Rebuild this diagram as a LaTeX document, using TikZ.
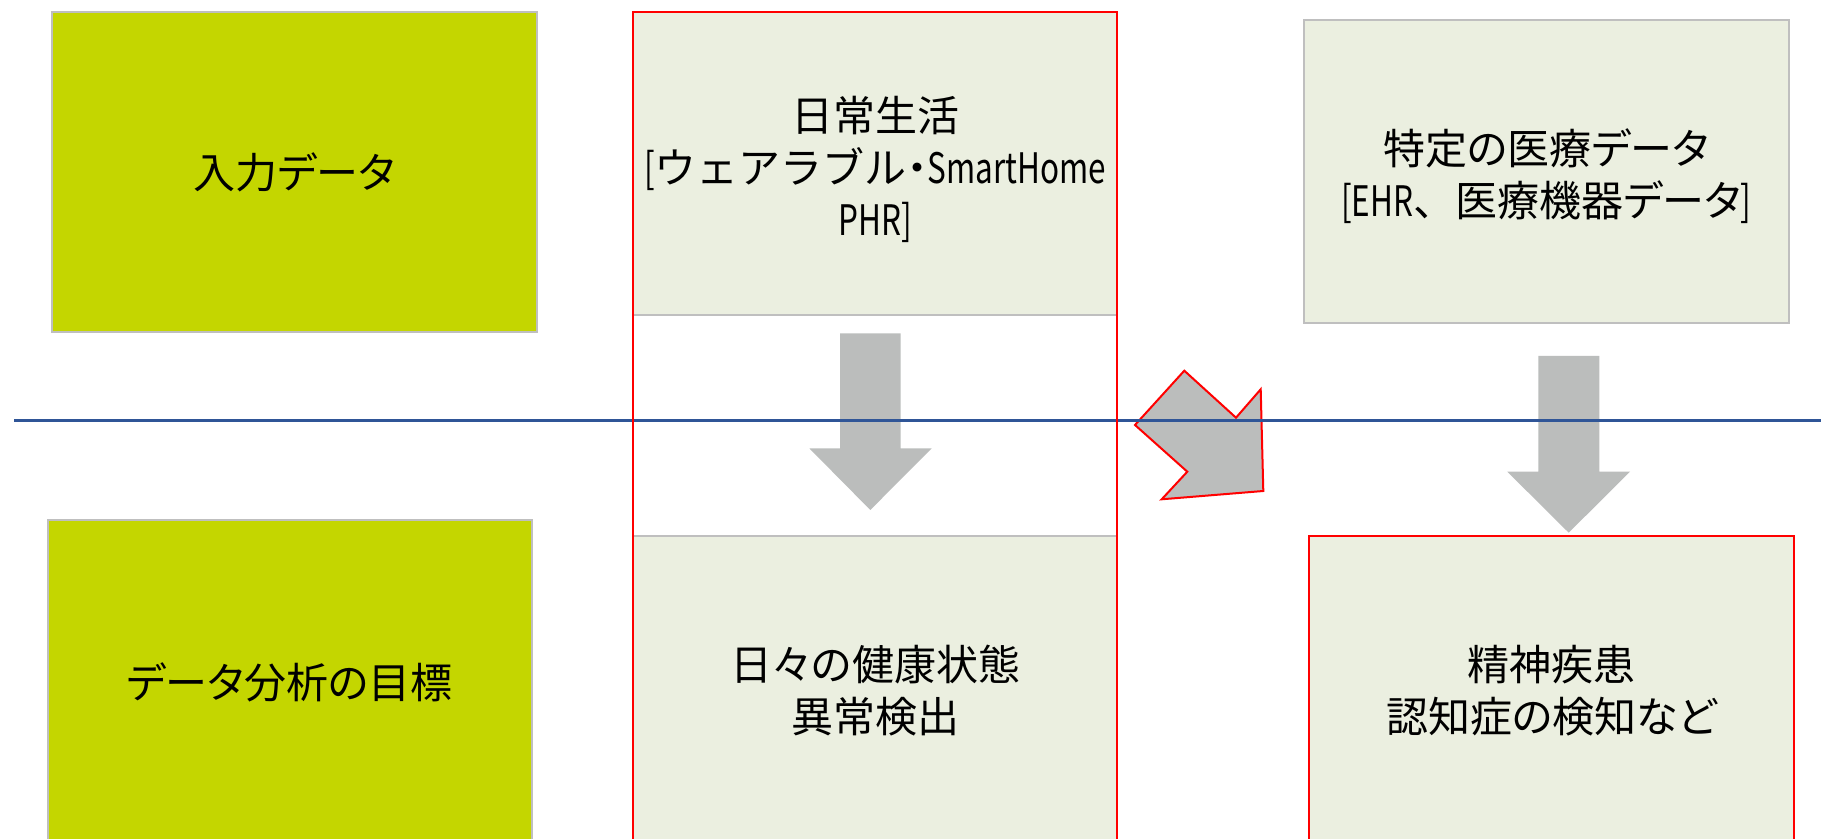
\documentclass[tikz,border=0pt]{standalone}
\usepackage{fontspec}
\newfontfamily\jp{Noto Sans CJK JP}[RawFeature=+palt]
\newfontfamily\jpf{Noto Sans CJK JP}
\newfontfamily\lat{Noto Sans CJK JP}[FakeStretch=0.75]
\definecolor{cgreen}{HTML}{C4D600}
\definecolor{clight}{HTML}{EBEFE0}
\definecolor{cgray}{HTML}{BFBFBF}
\definecolor{cred}{HTML}{FF0000}
\definecolor{carrow}{HTML}{BBBDBC}
\definecolor{cblue}{HTML}{2F5597}
\tikzset{
  box/.style={rectangle, inner sep=0pt, align=center, line width=1pt,
    font=\jp\fontsize{21}{26}\selectfont},
  greenbox/.style={box, fill=cgreen, draw=cgray},
  lightbox/.style={box, fill=clight, draw=cgray},
  redbox/.style={box, fill=clight, draw=cred},
  txt/.style={align=center, inner sep=0pt, font=\jp\fontsize{21}{26}\selectfont},
  blockarrow/.style={fill=carrow, draw=none},
  bentarrow/.style={fill=carrow, draw=cred, line width=1pt, line join=miter},
  divider/.style={draw=cblue, line width=1.1pt},
  frame/.style={draw=cred, line width=1pt}
}
\begin{document}
\begin{tikzpicture}[x=0.5pt,y=-0.5pt]
\clip (0,0) rectangle (1821,839);
\fill[white] (0,0) rectangle (1821,839);
% left labels
\node[greenbox, minimum width=242.1pt, minimum height=160.3pt] (in) at (294.4,171.9) {入力データ};
\node[greenbox, minimum width=242.15pt, minimum height=162.35pt] (goal) at (289.75,682.65) {データ分析の目標};
% middle column
\node[lightbox, minimum width=242.1pt, minimum height=151.55pt] (daily) at (875.1,163.15) {};
\node[txt, yshift=-3pt] (dailyt) at (daily.center)
  {日常生活\\{\lat[}{\jpf ウェアラブル}・{\lat SmartHome}\\{\lat PHR]}};
\node[lightbox, minimum width=242.1pt, minimum height=154.25pt] (health) at (875.1,690.75)
  {日々の健康状態\\異常検出};
% right column
\node[lightbox, minimum width=242.15pt, minimum height=151.6pt] (med) at (1546.35,171.3) {};
\node[txt, yshift=-2.5pt] (medt) at (med.center)
  {特定の医療データ\\{\lat[EHR}{\jpf 、}医療機器データ{\lat]}};
\node[redbox, minimum width=242.75pt, minimum height=154.25pt] (mental) at (1551.55,690.75)
  {精神疾患\\認知症の検知など};
% straight block arrows
\fill[blockarrow] (840,333.3) -- (900.7,333.3) -- (900.7,448.3) -- (931.7,448.3)
  -- (870.3,510) -- (809.3,448.3) -- (840,448.3) -- cycle;
\fill[blockarrow] (1538.3,356) -- (1599.3,356) -- (1599.3,471.7) -- (1630,471.7)
  -- (1568.7,532.7) -- (1507.3,471.7) -- (1538.3,471.7) -- cycle;
% bent arrow
\coordinate (b1) at (1135,425);
\coordinate (b2) at (1184.3,370.7);
\coordinate (b3) at (1236,417.7);
\coordinate (b4) at (1260.7,389.3);
\coordinate (b5) at (1263.3,491);
\coordinate (b6) at (1161.7,499.3);
\coordinate (b7) at (1187.3,471.7);
\draw[bentarrow] (b1) -- (b2) -- (b3) -- (b4) -- (b5) -- (b6) -- (b7) -- cycle;
% divider
\coordinate (dl) at (14,420.6);
\coordinate (dr) at (1821,420.6);
\draw[divider] (dl) -- (dr);
% red frame of the middle column
\coordinate (f1) at (633,11.6);
\coordinate (f2) at (1117.2,850);
\draw[frame] (f1) rectangle (f2);
\end{tikzpicture}
\end{document}
